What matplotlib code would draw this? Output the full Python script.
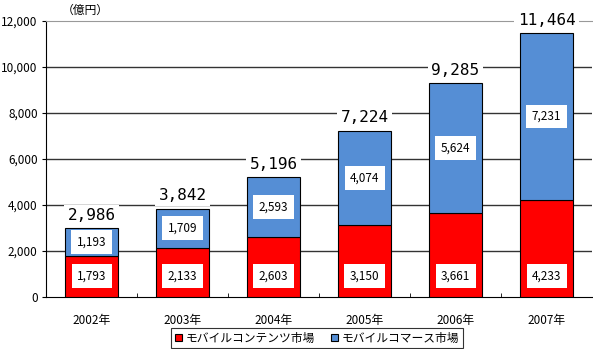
import matplotlib
matplotlib.use("Agg")
import matplotlib.pyplot as plt
from matplotlib.patches import Patch

plt.rcParams['font.family'] = ['Noto Sans CJK JP', 'DejaVu Sans']

years = ['2002年', '2003年', '2004年', '2005年', '2006年', '2007年']
contents = [1793, 2133, 2603, 3150, 3661, 4233]
commerce = [1193, 1709, 2593, 4074, 5624, 7231]
totals = [2986, 3842, 5196, 7224, 9285, 11464]
series_names = ['モバイルコンテンツ市場', 'モバイルコマース市場']

red = '#FF0000'
blue = '#558ED5'

fig = plt.figure(figsize=(5.93, 3.49), dpi=100)
ax = fig.add_axes([46/593, 1-297/349, 546/593, 276/349])

x = list(range(len(years)))
w = 0.58
ax.bar(x, contents, width=w, color=red, edgecolor='black', linewidth=0.8, zorder=3)
ax.bar(x, commerce, width=w, bottom=contents, color=blue, edgecolor='black', linewidth=0.8, zorder=3)

ax.set_xlim(-0.5, len(years)-0.5)
ax.set_ylim(0, 12000)
ax.set_yticks(range(0, 12001, 2000))
ax.set_yticklabels([f'{v:,}' for v in range(0, 12001, 2000)], fontsize=8.5)
ax.set_xticks(x)
ax.set_xticklabels(years, fontsize=8.5)
ax.tick_params(axis='x', length=0, pad=12)
ax.tick_params(axis='y', length=3, direction='out', pad=3)
ax.set_xticks([i + 0.5 for i in x[:-1]], minor=True)
ax.tick_params(axis='x', which='minor', length=3, direction='in')

for g in range(2000, 12000, 2000):
    ax.axhline(g, color='#333333', linewidth=1.0, zorder=1)
ax.spines['top'].set_color('#999999')
ax.spines['right'].set_visible(False)
ax.spines['left'].set_color('black')
ax.spines['bottom'].set_color('black')

box = dict(boxstyle='square,pad=0.45', facecolor='white', edgecolor='none')
for i in x:
    ax.text(i, 900, f'{contents[i]:,}', ha='center', va='center', fontsize=8.5, bbox=box, zorder=5)
    ax.text(i, contents[i] + commerce[i] / 2, f'{commerce[i]:,}', ha='center', va='center',
            fontsize=8.5, bbox=box, zorder=5)
    ax.text(i, totals[i] + 560, f'{totals[i]:,}', ha='center', va='center', fontsize=11.5,
            family='DejaVu Sans Mono',
            bbox=dict(boxstyle='square,pad=0.2', facecolor='white', edgecolor='none'), zorder=5)

fig.text(62/593, 1-10/349, '（億円）', fontsize=8.5, ha='left', va='center')

handles = [Patch(facecolor=red, edgecolor='black', linewidth=0.8),
           Patch(facecolor=blue, edgecolor='black', linewidth=0.8)]
leg = fig.legend(handles, series_names, loc='center', bbox_to_anchor=(317/593, 1-338/349),
                 ncol=2, fontsize=8.5, frameon=True, fancybox=False, edgecolor='black',
                 handlelength=0.6, handleheight=0.6, handletextpad=0.3, columnspacing=1.4,
                 borderpad=0.3, borderaxespad=0)
leg.get_frame().set_linewidth(0.8)

fig.savefig('out.png', dpi=100)
